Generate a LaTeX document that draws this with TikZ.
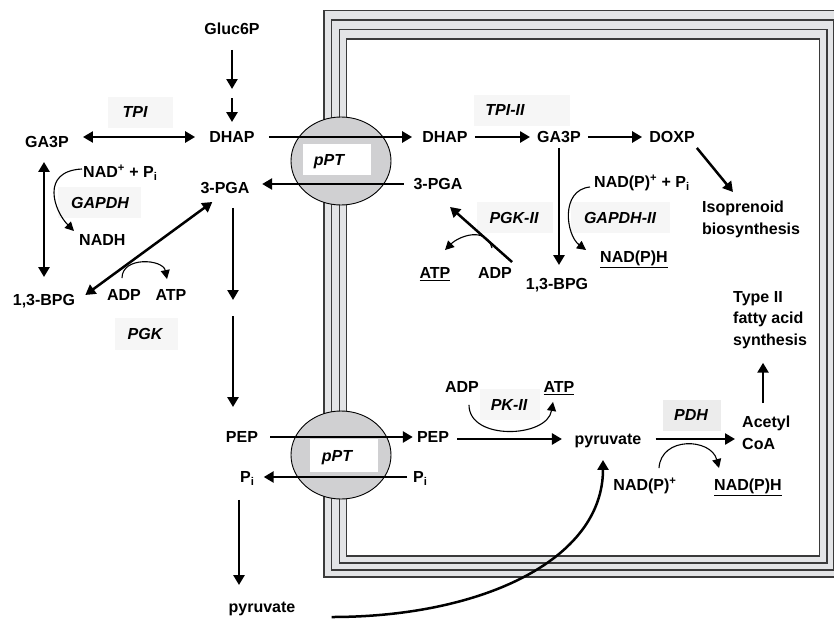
\documentclass[tikz,border=0pt]{standalone}
\usepackage{fontspec}
\setmainfont{Liberation Sans}
\usetikzlibrary{arrows.meta,shapes.geometric}
\definecolor{memfill}{HTML}{E3E4E6}
\definecolor{memline}{HTML}{3A3A3A}
\definecolor{pptfill}{HTML}{D0D0D2}
\definecolor{enzfill}{HTML}{F6F6F6}
\definecolor{pdhfill}{HTML}{ECECEC}
\begin{document}
\begin{tikzpicture}[x=1pt,y=-1pt,
    font=\fontsize{16}{21.5}\selectfont\bfseries,
    met/.style={inner sep=0pt,text height=11.5pt,text depth=0pt},
    multi/.style={inner sep=0pt,align=left,anchor=north west},
    enz/.style={inner sep=0pt,text height=11.5pt,text depth=0pt,font=\fontsize{16}{19}\selectfont\bfseries\itshape},
    memb/.style={draw=memline,line width=1.3pt},
    carrier/.style={ellipse,draw,line width=0.9pt,fill=pptfill,inner sep=0pt,minimum width=100pt,minimum height=88pt},
    rxn/.style={line width=2.5pt,-{Triangle[length=10pt,width=11pt]}},
    rxnb/.style={line width=2.5pt,{Triangle[length=10pt,width=11pt]}-{Triangle[length=10pt,width=11pt]}},
    cof/.style={line width=1.1pt,-{Triangle[length=9pt,width=9pt]}}]
    \useasboundingbox (0,0) rectangle (834,618);

    \path[memb,fill=memfill] (324,10.7) rectangle (841,577);
    \path[memb] (331.7,20) rectangle (834,570);
    \path[memb] (339.3,29.3) rectangle (827,563);
    \path[memb,fill=white] (346.7,39) rectangle (819.5,556);

    \node[carrier] (pptTop) at (341,161) {};
    \node[carrier] (pptBot) at (341,455) {};
    \fill[white] (303,144) rectangle (371,175);
    \fill[white] (310,439) rectangle (378,472);
    \foreach \xa/\ya/\xb/\yb in {108/97/173/128, 58/187/141/218, 115/318/178/350,
        474/95/570/126, 477/202/553/233, 571/202/670/233, 480/389/540/420}
      \fill[enzfill] (\xa,\ya) rectangle (\xb,\yb);
    \fill[pdhfill] (663,400) rectangle (721,431);

    \node[enz] (pptA) at (329,160) {pPT};
    \node[enz] (pptB) at (337,456) {pPT};
    \node[enz] (tpi) at (135,112) {TPI};
    \node[enz] (gapdh) at (100,203) {GAPDH};
    \node[enz] (pgk) at (145,334) {PGK};
    \node[enz] (tpiII) at (505,110) {TPI-II};
    \node[enz] (pgkII) at (514,218) {PGK-II};
    \node[enz] (gapdhII) at (620,218) {GAPDH-II};
    \node[enz] (pkII) at (509,405) {PK-II};
    \node[enz] (pdh) at (691,415) {PDH};

    \node[met] (gluc) at (232,29) {Gluc6P};
    \node[met] (dhapL) at (232,137) {DHAP};
    \node[met] (ga3pL) at (47,142) {GA3P};
    \node[met,anchor=west] (nadL) at (83,172) {NAD\textsuperscript{+} + P\textsubscript{i}};
    \node[met,anchor=west] (nadhL) at (79,240) {NADH};
    \node[met] (pgaL) at (225,188) {3-PGA};
    \node[met] (bpgL) at (44,300) {1,3-BPG};
    \node[met] (adpL) at (124,295) {ADP};
    \node[met] (atpL) at (171,295) {ATP};
    \node[met] (pepL) at (242,437) {PEP};
    \node[met,anchor=west] (piL) at (240,477) {P\textsubscript{i}};
    \node[met] (pyrL) at (262,607) {pyruvate};

    \node[met] (dhapR) at (445,137) {DHAP};
    \node[met] (ga3pR) at (559,137) {GA3P};
    \node[met] (doxp) at (672,137) {DOXP};
    \node[met] (pgaR) at (438,184) {3-PGA};
    \node[met,anchor=west] (nadR) at (594,182) {NAD(P)\textsuperscript{+} + P\textsubscript{i}};
    \node[multi] (iso) at (702,201) {Isoprenoid\\biosynthesis};
    \node[met] (atpR) at (435,273) {\underline{ATP}};
    \node[met] (adpR) at (495,273) {ADP};
    \node[met] (bpgR) at (557,284) {1,3-BPG};
    \node[met] (nadphR) at (634,257) {\underline{NAD(P)H}};
    \node[multi] (fas) at (733,291) {Type II\\fatty acid\\synthesis};
    \node[met] (adpPK) at (462,387) {ADP};
    \node[met] (atpPK) at (559,387) {\underline{ATP}};
    \node[met] (pepR) at (433,437) {PEP};
    \node[met,anchor=west] (piR) at (413,477) {P\textsubscript{i}};
    \node[met] (pyrR) at (608,439) {pyruvate};
    \node[multi] (acoa) at (742,416) {Acetyl\\CoA};
    \node[met] (nadB) at (645,485) {NAD(P)\textsuperscript{+}};
    \node[met] (nadphB) at (748,485) {\underline{NAD(P)H}};

    \coordinate (c1) at (232,93.5);
    \coordinate (c2) at (233,308);
    \coordinate (c3) at (239,540);
    \coordinate (c4) at (763,380);

    \draw[rxn,shorten <=15pt,shorten >=4.5pt] (gluc.south) -- (c1);
    \draw[rxn,shorten <=4.5pt,shorten >=9pt] (c1) -- (dhapL.north);
    \draw[rxnb,shorten <=14pt,shorten >=14pt] (ga3pL.east |- dhapL.west) -- (dhapL.west);
    \draw[rxn,shorten <=14pt,shorten >=10pt] (dhapL.east) -- (dhapR.west);
    \draw[rxn,shorten <=9.5pt,shorten >=12.5pt] (pgaR.west) -- (pgaL.east |- pgaR.west);
    \draw[rxn,shorten <=7pt,shorten >=7pt] (dhapR.east) -- (ga3pR.west);
    \draw[rxn,shorten <=7pt,shorten >=7pt] (ga3pR.east) -- (doxp.west);
    \draw[rxn] ([shift={(2,5)}]doxp.south east) -- ([shift={(31,-9)}]iso.north west);
    \draw[rxn,shorten <=5pt,shorten >=13pt] (ga3pR.south) -- (ga3pR.south |- bpgR.north);
    \draw[cof] ([shift={(-4,5)}]nadR.west) .. controls +(-30,3) and +(-20,-15) .. ([shift={(-14,-7)}]nadphR.west);
    \draw[rxn] ([shift={(0,-5)}]adpR.north east) -- ([shift={(12,17)}]pgaR.south);
    \draw[cof] ([shift={(-3,-19)}]adpR.north) .. controls +(-6,-22) and +(14,-14) .. ([shift={(10,-17)}]atpR.north);

    \draw[cof] ([shift={(-1,-3)}]nadL.west) .. controls +(-42,2) and +(-20,-20) .. ([shift={(-5,-9)}]nadhL.west);
    \draw[rxnb,shorten <=14pt,shorten >=17pt] (ga3pL.south -| bpgL.north) -- (bpgL.north);
    \draw[rxnb] ([shift={(12,8)}]pgaL.south west) -- ([shift={(10,-5)}]bpgL.east);
    \draw[cof] ([shift={(-2,-11)}]adpL.north) .. controls +(0,-22) and +(-4,-20) .. ([shift={(-4,-10)}]atpL.north);
    \draw[rxn,shorten <=14pt,shorten >=8pt] (c2 |- pgaL.south) -- (c2);
    \draw[rxn,shorten <=8pt,shorten >=24pt] (c2) -- (c2 |- pepL.north);

    \draw[rxn,shorten <=12pt,shorten >=4pt] (pepL.east) -- (pepR.west);
    \draw[rxn,shorten <=6pt,shorten >=9pt] (piR.west) -- (piL.east);
    \draw[rxn,shorten <=17pt,shorten >=16pt] (c3 |- piL.south) -- (c3 |- pyrL.north);
    \draw[rxn,shorten <=8pt,shorten >=12.5pt] (pepR.east |- pyrR.west) -- (pyrR.west);
    \draw[cof] ([shift={(7,12)}]adpPK.south) .. controls +(0,36) and +(-6,36) .. ([shift={(-6,9)}]atpPK.south);
    \draw[rxn,shorten <=14pt,shorten >=7pt] (pyrR.east) -- (pyrR.east -| acoa.west);
    \draw[cof] ([shift={(14,-11)}]nadB.north) .. controls +(2,-32) and +(-8,-30) .. ([shift={(-29,-11)}]nadphB.north);
    \draw[rxn,shorten <=13pt,shorten >=14pt] (c4 |- acoa.north) -- (c4 |- fas.south);
    \draw[rxn] ([shift={(36,10)}]pyrL.east) .. controls +(150,0) and +(0,100) .. ([shift={(-5,15)}]pyrR.south);
  \end{tikzpicture}
\end{document}
